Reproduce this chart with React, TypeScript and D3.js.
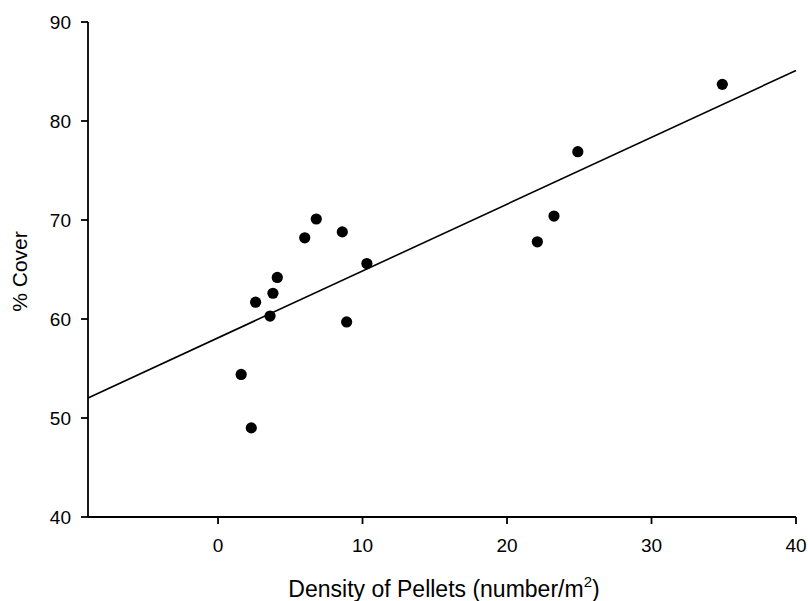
import React from "react";
import * as d3 from "d3";

const densityX = [1.6, 2.3, 2.6, 3.6, 3.8, 4.1, 6.0, 6.8, 8.6, 8.9, 10.3, 22.1, 23.25, 24.9, 34.9];
const coverY = [54.4, 49.0, 61.7, 60.3, 62.6, 64.2, 68.2, 70.1, 68.8, 59.7, 65.6, 67.8, 70.4, 76.9, 83.7];
const xTicks = [0, 10, 20, 30, 40];
const yTicks = [40, 50, 60, 70, 80, 90];
const fitIntercept = 58.1;
const fitSlope = 0.675;
const xDomain = [-9, 40];
const yDomain = [40, 90];

const W = 808;
const H = 601;
const M = { left: 88, right: 12, top: 22, bottom: 84 };

export default function App() {
  const x = d3.scaleLinear().domain(xDomain).range([M.left, W - M.right]);
  const y = d3.scaleLinear().domain(yDomain).range([H - M.bottom, M.top]);
  const font = "Arial, 'Liberation Sans', sans-serif";
  const fitLine = d3
    .line<number>()
    .x((d) => x(d))
    .y((d) => y(fitIntercept + fitSlope * d))(xDomain);
  const x0 = x(xDomain[0]);
  const x1 = x(xDomain[1]);
  const yb = y(yDomain[0]);
  const yt = y(yDomain[1]);
  return (
    <svg
      width={W}
      height={H}
      style={{ position: "absolute", left: 0, top: 0, background: "#fff" }}
      fontFamily={font}
    >
      <rect width={W} height={H} fill="#fff" />
      {/* axes */}
      <line x1={x0} x2={x1} y1={yb} y2={yb} stroke="#000" strokeWidth={1.8} />
      <line x1={x0} x2={x0} y1={yb} y2={yt} stroke="#000" strokeWidth={1.8} />
      {xTicks.map((t) => (
        <g key={"x" + t}>
          <line x1={x(t)} x2={x(t)} y1={yb} y2={yb + 7} stroke="#000" strokeWidth={1.8} />
          <text x={x(t)} y={yb + 35} textAnchor="middle" fontSize={19} fill="#000">
            {t}
          </text>
        </g>
      ))}
      {yTicks.map((t) => (
        <g key={"y" + t}>
          <line x1={x0 - 7} x2={x0} y1={y(t)} y2={y(t)} stroke="#000" strokeWidth={1.8} />
          <text x={x0 - 17} y={y(t)} dy="0.35em" textAnchor="end" fontSize={19} fill="#000">
            {t}
          </text>
        </g>
      ))}
      {/* regression line */}
      <path d={fitLine || ""} fill="none" stroke="#000" strokeWidth={1.6} />
      {/* points */}
      {densityX.map((d, i) => (
        <circle key={i} cx={x(d)} cy={y(coverY[i])} r={5.6} fill="#000" />
      ))}
      {/* titles */}
      <text x={(x0 + x1) / 2 + 2} y={597} textAnchor="middle" fontSize={23} fill="#000">
        Density of Pellets (number/m
        <tspan fontSize={15} dy={-10}>2</tspan>
        <tspan dy={10}>)</tspan>
      </text>
      <text
        transform={`translate(27, ${(yb + yt) / 2 + 2}) rotate(-90)`}
        textAnchor="middle"
        fontSize={21}
        fill="#000"
      >
        % Cover
      </text>
    </svg>
  );
}
